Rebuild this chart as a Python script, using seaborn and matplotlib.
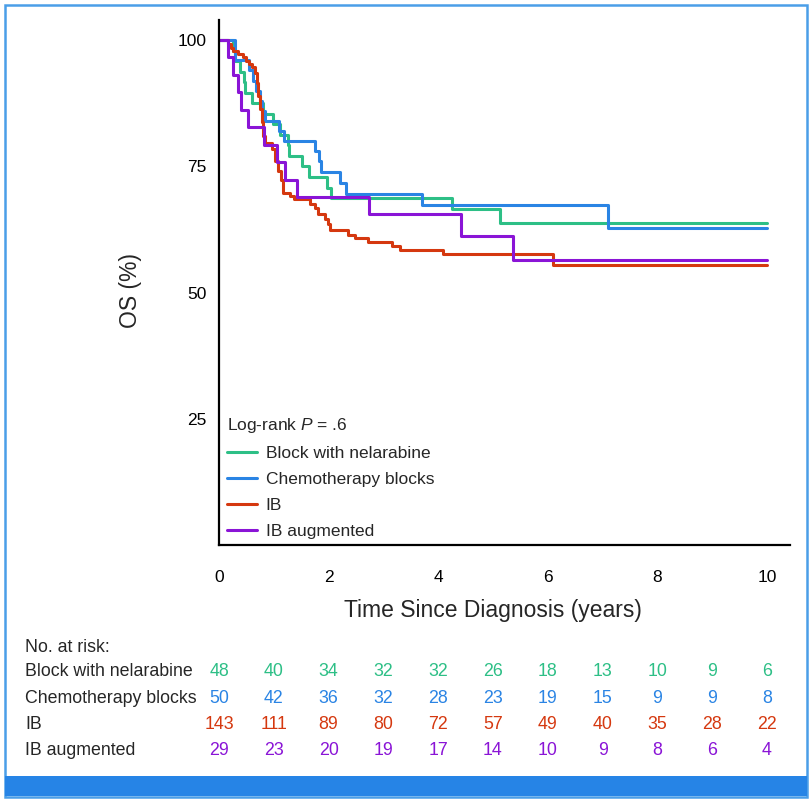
import matplotlib
matplotlib.use("Agg")
import matplotlib.pyplot as plt
import matplotlib.patches as mpatches
from matplotlib.lines import Line2D
from matplotlib.transforms import blended_transform_factory
import pandas as pd
import seaborn as sns

# Kaplan-Meier step points (years, OS %)
groups = ["Block with nelarabine", "Chemotherapy blocks", "IB", "IB augmented"]
colors = ["#2dbf86", "#2a84e4", "#d5380f", "#8a14d6"]

nela_t = [0, 0.26, 0.30, 0.38, 0.46, 0.48, 0.60, 0.81, 0.99, 1.11, 1.26, 1.28,
          1.51, 1.65, 1.97, 2.04, 4.25, 5.13, 10.0]
nela_s = [100, 97.9, 95.8, 93.75, 91.7, 89.6, 87.5, 85.4, 83.3, 81.25, 79.2, 77.1,
          75.0, 72.9, 70.8, 68.75, 66.5, 63.75, 63.75]

chemo_t = [0, 0.30, 0.55, 0.62, 0.68, 0.74, 0.78, 0.84, 1.10, 1.19, 1.75, 1.82,
           1.86, 2.21, 2.32, 3.70, 7.09, 10.0]
chemo_s = [100, 96, 94, 92, 90, 88, 86, 84, 82, 80, 78, 76,
           73.9, 71.8, 69.6, 67.3, 62.7, 62.7]

ib_t = [0, 0.16, 0.21, 0.25, 0.34, 0.43, 0.49, 0.55, 0.61, 0.65, 0.69, 0.72,
        0.75, 0.78, 0.81, 0.84, 0.96, 1.02, 1.08, 1.14, 1.17, 1.30, 1.36, 1.66,
        1.75, 1.81, 1.93, 1.99, 2.02, 2.36, 2.48, 2.72, 3.15, 3.30, 4.08, 6.09, 10.0]
ib_s = [100, 99.2, 98.5, 97.9, 97.2, 96.6, 95.9, 95.2, 94.6, 93.6, 91.6, 89.0,
        86.3, 83.7, 81.0, 79.7, 78.4, 76.1, 74.1, 72.4, 69.8, 69.1, 68.5, 67.5,
        66.8, 65.5, 64.5, 63.5, 62.4, 61.5, 60.9, 60.0, 59.2, 58.5, 57.7, 55.4, 55.4]

aug_t = [0, 0.16, 0.25, 0.35, 0.40, 0.53, 0.82, 1.05, 1.20, 1.42, 2.74, 4.41, 5.36, 10.0]
aug_s = [100, 96.6, 93.1, 89.7, 86.2, 82.8, 79.3, 75.9, 72.4, 69.0, 65.5, 61.3, 56.5, 56.5]

# numbers at risk, yearly 0..10
risk_years = list(range(0, 11))
risk_nela = [48, 40, 34, 32, 32, 26, 18, 13, 10, 9, 6]
risk_chemo = [50, 42, 36, 32, 28, 23, 19, 15, 9, 9, 8]
risk_ib = [143, 111, 89, 80, 72, 57, 49, 40, 35, 28, 22]
risk_aug = [29, 23, 20, 19, 17, 14, 10, 9, 8, 6, 4]

x_ticks = [0, 2, 4, 6, 8, 10]
y_ticks = [25, 50, 75, 100]

frames = []
for name, t, s in [(groups[0], nela_t, nela_s), (groups[1], chemo_t, chemo_s),
                   (groups[2], ib_t, ib_s), (groups[3], aug_t, aug_s)]:
    frames.append(pd.DataFrame({"time": t, "os": s, "group": name}))
df = pd.concat(frames, ignore_index=True)

sns.set_style("white")
plt.rcParams["font.family"] = ["Liberation Sans", "DejaVu Sans"]
plt.rcParams["mathtext.fontset"] = "custom"
plt.rcParams["mathtext.rm"] = "Liberation Sans"
plt.rcParams["mathtext.it"] = "Liberation Sans:italic"

W, H = 811, 805
fig = plt.figure(figsize=(W / 100, H / 100), dpi=100)
ax = fig.add_axes([219 / W, 1 - 545 / H, (790 - 219) / W, (545 - 20) / H])

palette = dict(zip(groups, colors))
for g in groups:
    sub = df[df["group"] == g]
    sns.lineplot(data=sub, x="time", y="os", color=palette[g], drawstyle="steps-post",
                 estimator=None, linewidth=2.2, ax=ax, legend=False)

ax.set_xlim(0, 10.42)
ax.set_ylim(0, 104)
ax.set_xticks(x_ticks)
ax.set_yticks(y_ticks)
ax.spines["top"].set_visible(False)
ax.spines["right"].set_visible(False)
for sp in ("left", "bottom"):
    ax.spines[sp].set_color("black")
    ax.spines[sp].set_linewidth(1.6)
ax.tick_params(axis="both", direction="out", length=6, width=1.4, color="black",
               labelsize=12.5, labelcolor="black")
ax.tick_params(axis="x", pad=12)
ax.tick_params(axis="y", pad=3)

ax.set_xlabel("Time Since Diagnosis (years)", fontsize=16.5)
ax.xaxis.set_label_coords((493 - 219) / 571, -(610 - 545) / 525)
ax.xaxis.label.set_va("center")
ax.set_ylabel("OS (%)", fontsize=16.5)
ax.yaxis.set_label_coords((130 - 219) / 571, 1 - (290 - 20) / 525)
ax.yaxis.label.set_va("center")

handles = [Line2D([0], [0], color=c, linewidth=2.2) for c in colors]
leg = ax.legend(handles, groups, title="Log-rank $P$ = .6", loc="lower left",
                bbox_to_anchor=(-0.008, -0.012), frameon=False, fontsize=12.5,
                title_fontsize=12.5, handlelength=1.73, handletextpad=0.52,
                labelspacing=0.63, borderaxespad=0.3)
leg._legend_box.align = "left"

# number at risk table
tr = blended_transform_factory(ax.transData, fig.transFigure)
fs_risk = 12.8
fig.text(25 / W, 1 - 647 / H, "No. at risk:", fontsize=fs_risk, va="center")
rows = [risk_nela, risk_chemo, risk_ib, risk_aug]
row_y = [672, 698, 724, 750]
for name, col, vals, yy in zip(groups, colors, rows, row_y):
    fig.text(25 / W, 1 - yy / H, name, fontsize=fs_risk, va="center")
    for yr, v in zip(risk_years, vals):
        ax.text(yr, 1 - yy / H, str(v), transform=tr, color=col, fontsize=fs_risk,
                ha="center", va="center", clip_on=False)

# outer frame and bottom bar
fig.patches.append(mpatches.Rectangle((5 / W, 1 - 797 / H), 802 / W, 792 / H,
                                      transform=fig.transFigure, fill=False,
                                      edgecolor="#4a9ee8", linewidth=1.8))
fig.patches.append(mpatches.Rectangle((5 / W, 1 - 796 / H), 802 / W, 20 / H,
                                      transform=fig.transFigure, facecolor="#2684e6",
                                      edgecolor="none"))

fig.savefig("out.png", dpi=100)
